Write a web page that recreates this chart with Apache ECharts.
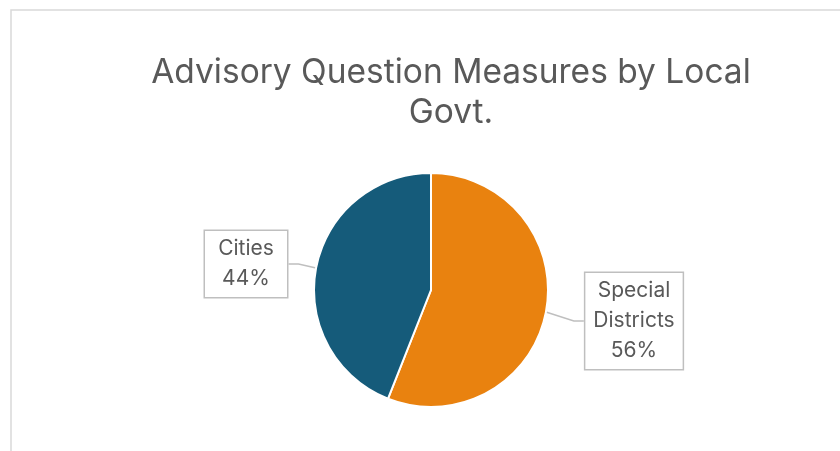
<!DOCTYPE html>
<html><head><meta charset="utf-8">
<script src="https://cdn.jsdelivr.net/npm/echarts@6/dist/echarts.min.js"></script>
<style>html,body{margin:0;padding:0;background:#fff}#c{width:840px;height:451px}</style>
</head><body><div id="c"></div>
<script>
const titleText = 'Advisory Question Measures by Local\nGovt.';
const categories = ['Special Districts', 'Cities'];
const values = [56, 44];
const colors = ['#E9820F', '#155B7A'];

const chart = echarts.init(document.getElementById('c'), null, {renderer: 'canvas'});
const labelPos = [[634, 321], [246, 264]];
chart.setOption({
  animation: false,
  graphic: [{type: 'rect', shape: {x: 11, y: 10, width: 900, height: 600}, style: {fill: 'none', stroke: '#d9d9d9', lineWidth: 1.5}, silent: true}],
  title: {
    text: titleText, left: 446, top: 48, textAlign: 'center',
    textStyle: {fontFamily: 'Inter', fontWeight: 'normal', fontSize: 33.5, color: '#595959', lineHeight: 40}
  },
  series: [{
    type: 'pie', center: [431, 290], radius: 117, startAngle: 90, clockwise: true,
    itemStyle: {borderColor: '#fff', borderWidth: 2},
    data: categories.map((c, i) => ({name: c, value: values[i], itemStyle: {color: colors[i]}})),
    label: {
      show: true, position: 'outside',
      formatter: p => p.name.split(' ').join('\n') + '\n' + Math.round(p.percent) + '%',
      fontFamily: 'Inter', fontSize: 21, lineHeight: 30, color: '#595959', align: 'center',
      backgroundColor: '#fff', borderColor: '#bfbfbf', borderWidth: 1.5, padding: [3, 8, 3, 8]
    },
    labelLine: {show: true, length: 10, length2: 10, lineStyle: {color: '#bfbfbf', width: 1.5}},
    labelLayout: p => ({x: labelPos[p.dataIndex][0], y: labelPos[p.dataIndex][1], align: 'center', verticalAlign: 'middle', width: p.dataIndex === 1 ? 66 : undefined})
  }]
});
</script></body></html>
